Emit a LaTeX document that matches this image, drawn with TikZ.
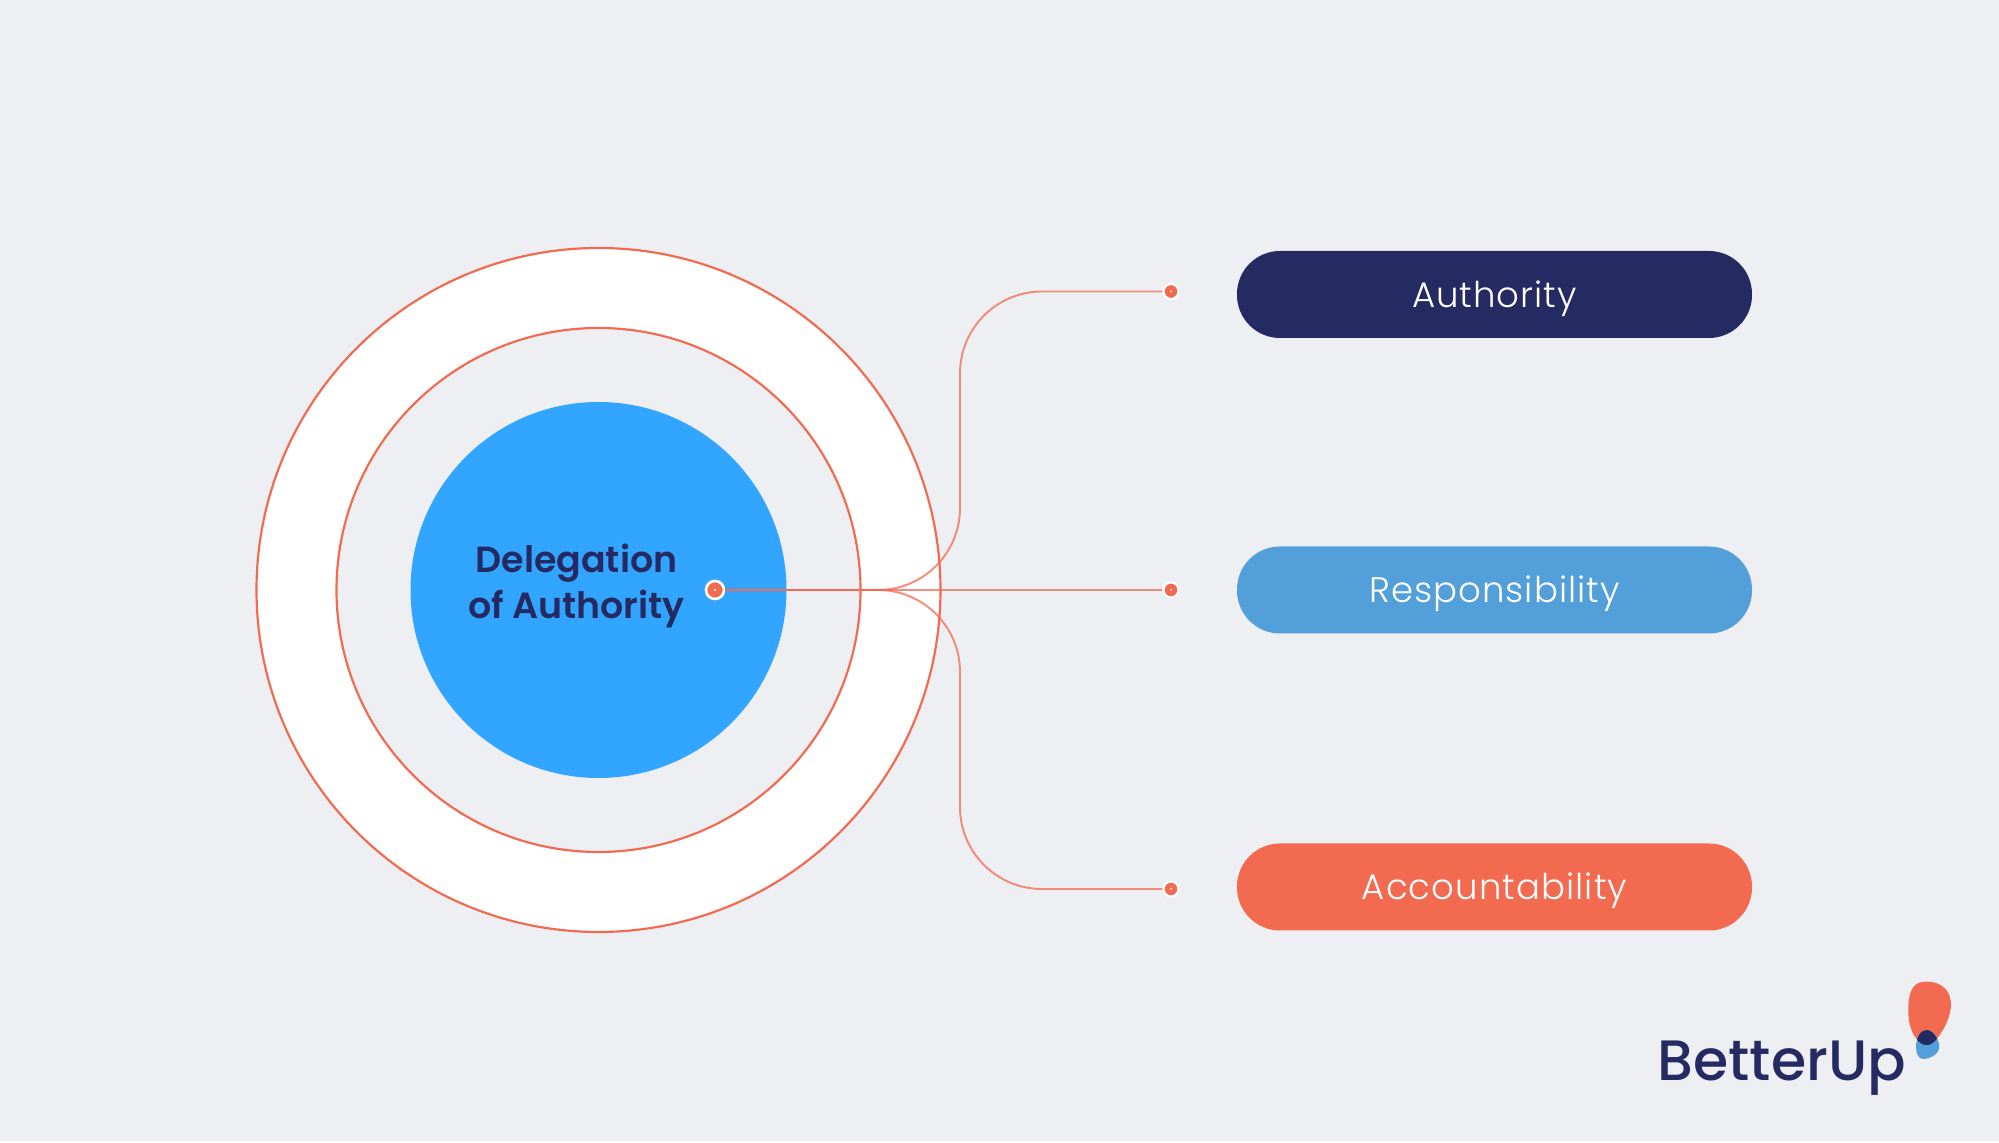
\documentclass[tikz,border=0pt]{standalone}
\usepackage{fontspec}
\setmainfont{Poppins}[UprightFont=* Light,BoldFont=* SemiBold]
\newfontfamily\logofont{Poppins Medium}
\usetikzlibrary{positioning}
\definecolor{pagebg}{HTML}{EEEFF3}
\definecolor{navy}{HTML}{262A63}
\definecolor{coral}{HTML}{F26A50}
\definecolor{midblue}{HTML}{539FD9}
\definecolor{coreblue}{HTML}{31A5FF}
\tikzset{ring/.style={circle, draw=coral, line width = 0.62pt, inner sep=0pt},
  pill/.style={draw=none, rounded corners=4.3mm, minimum width=5.15cm, minimum height=0.87cm, inner sep=0pt, text=white, text height=0.35cm, text depth=0.09cm, font=\fontsize{10.1pt}{12pt}\selectfont\addfontfeature{LetterSpace=3}},
  tipdot/.style={circle, fill=coral, draw=white, line width=0.6pt, minimum size=0.15cm, inner sep=0pt},
  link/.style={draw=coral, opacity=0.75, line width=0.55pt, rounded corners=8.2mm}}
\begin{document}
\begin{tikzpicture}
    \useasboundingbox (0,0) rectangle (19.99,11.43);
    \fill[pagebg] (0,0.02) rectangle (19.99,11.43);

    \node[ring, fill=white, minimum size=6.84cm] (outer) at (5.985, 5.53) {};
    \node[ring, fill=pagebg, minimum size=5.24cm] (inner) at (5.985, 5.53) {};
    \node[circle, fill=coreblue, minimum size=3.76cm, inner sep=0pt] (core) at (5.985, 5.53) {};
    \node[text=navy, align=center, font=\fontsize{10.35pt}{12.9pt}\selectfont\bfseries] (title) at (5.765, 5.57) {Delegation\\of Authority};

    \node[pill, fill=navy] (authority) at (14.945, 8.485) {Authority};
    \node[pill, fill=midblue] (responsibility) at (14.945, 5.53) {Responsibility};
    \node[pill, fill=coral] (accountability) at (14.945, 2.56) {Accountability};

    \node[tipdot] (dotA) at (11.71, 8.515) {};
    \node[tipdot] (dotB) at (11.71, 5.53) {};
    \node[tipdot] (dotC) at (11.71, 2.54) {};
    \node[circle, fill=coral, draw=white, line width=0.75pt, minimum size=0.18cm, inner sep=0pt] (hub) at (7.15, 5.53) {};
    \coordinate (elbow) at (9.6, 5.53);

    \draw[link] (hub) -- (elbow) |- (dotA);
    \draw[link] (hub) -- (dotB);
    \draw[link] (hub) -- (elbow) |- (dotC);

    \fill[white] (hub) circle (0.012);
    \fill[white] (dotA) circle (0.01);
    \fill[white] (dotB) circle (0.01);
    \fill[white] (dotC) circle (0.01);

    \node[text=navy, font=\fontsize{16.2pt}{18pt}\logofont, inner sep=0pt, anchor=base west] (logo) at (16.57, 0.62) {BetterUp};
    \def\blobpath{(19.25,1.613) .. controls (19.42,1.62) and (19.51,1.52) .. (19.51,1.38) .. controls (19.51,1.27) and (19.44,1.13) .. (19.373,1.047) .. controls (19.33,0.99) and (19.3,0.98) .. (19.267,0.98) .. controls (19.23,0.98) and (19.19,1.0) .. (19.16,1.047) .. controls (19.1,1.13) and (19.083,1.22) .. (19.083,1.33) .. controls (19.083,1.5) and (19.12,1.61) .. (19.25,1.613) -- cycle}
    \def\droppath{(19.267,1.13) .. controls (19.33,1.13) and (19.393,1.03) .. (19.393,0.963) .. controls (19.393,0.89) and (19.3,0.84) .. (19.233,0.84) .. controls (19.18,0.84) and (19.16,0.9) .. (19.16,0.963) .. controls (19.16,1.04) and (19.2,1.13) .. (19.267,1.13) -- cycle}
    \fill[coral] \blobpath;
    \fill[midblue] \droppath;
    \begin{scope}
        \clip \blobpath;
        \fill[navy] \droppath;
    \end{scope}
\end{tikzpicture}
\end{document}
